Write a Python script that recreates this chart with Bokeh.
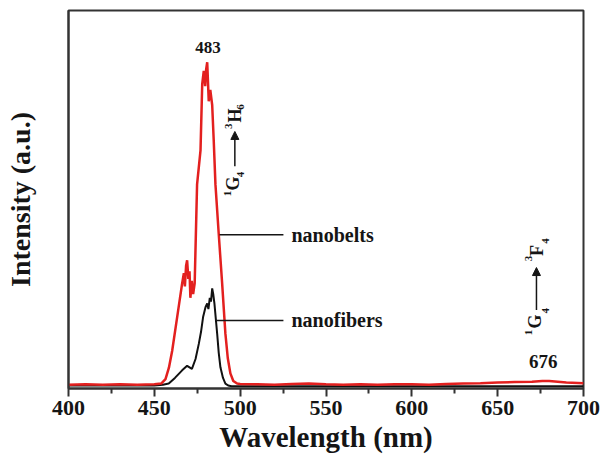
import math
from bokeh.plotting import figure
from bokeh.models import Range1d, Arrow, NormalHead, FixedTicker
from bokeh.core.properties import value
from bokeh.embed import file_html
from bokeh.resources import INLINE

# nanobelts (red)
belt_wl = [400, 410, 420, 430, 440, 450, 454, 456.5, 458.5, 460.4, 463.3, 466.2, 467.2, 467.8, 468.5, 469.1,
           469.8, 470.5, 471.0, 471.8, 472.6, 473.5, 474.9, 476.9, 477.9, 478.8, 479.6, 480.2, 480.8, 481.7,
           482.6, 483.7, 484.6, 485.6, 487.5, 489.5, 491.4, 492.8, 494.3, 496.0, 498.2, 500, 510, 520,
           530, 540, 550, 560, 570, 580, 590, 600, 610, 620, 630, 640, 650, 660, 670, 676, 680, 690, 700]
belt_I = [1.0, 1.1, 1.0, 1.1, 1.0, 1.1, 1.3, 2.5, 5.5, 10.0, 18.9, 27.8, 30.5, 27.0, 32.5, 33.9,
          29.0, 31.0, 24.0, 28.5, 25.0, 27.8, 54.0, 63.0, 80.6, 84.0, 80.0, 84.5, 86.3, 76.0,
          79.0, 75.0, 65.6, 54.0, 41.0, 27.8, 14.5, 8.0, 4.0, 2.0, 1.3, 1.2, 1.1, 1.0,
          1.2, 1.3, 1.1, 1.0, 1.1, 1.0, 1.1, 1.1, 1.0, 1.2, 1.3, 1.4, 1.6, 1.7, 1.8, 2.0, 2.0, 1.6, 1.4]

# nanofibers (black)
fiber_wl = [400, 450, 455, 458.4, 462.0, 466.2, 469.1, 471.9, 474.0, 475.9, 477.2, 478.4, 479.8, 480.8,
            481.5, 482.3, 483.0, 483.7, 484.3, 485.0, 486.6, 487.5, 488.5, 490.0, 491.4, 493, 495,
            500, 550, 600, 650, 700]
fiber_I = [0.8, 0.8, 1.0, 1.3, 2.8, 4.8, 6.0, 5.2, 7.8, 11.8, 15.0, 18.9, 21.5, 22.5,
           21.0, 24.0, 23.0, 26.5, 25.0, 22.5, 14.5, 9.5, 5.6, 2.8, 1.3, 0.8, 0.6,
           0.6, 0.6, 0.6, 0.6, 0.6]

x_ticks = [400, 450, 500, 550, 600, 650, 700]
x_minor = [425, 475, 525, 575, 625, 675]

SERIF = value("Liberation Serif")
RED = "#e3201f"
INK = "#151515"

p = figure(width=601, height=465, output_backend="svg", toolbar_location=None,
           x_range=Range1d(400, 700), y_range=Range1d(0, 100),
           min_border_left=68, min_border_right=18, min_border_top=10, min_border_bottom=77)
p.background_fill_color = "white"
p.border_fill_color = "white"
p.grid.visible = False
p.outline_line_color = "#333333"
p.outline_line_width = 2

p.xaxis.ticker = FixedTicker(ticks=x_ticks, minor_ticks=x_minor)
p.xaxis.axis_line_color = "#333333"
p.xaxis.axis_line_width = 2
p.xaxis.major_tick_line_width = 2
p.xaxis.minor_tick_line_width = 2
p.xaxis.major_tick_line_color = "#333333"
p.xaxis.minor_tick_line_color = "#333333"
p.xaxis.major_tick_in = 0
p.xaxis.major_tick_out = 8
p.xaxis.minor_tick_in = 0
p.xaxis.minor_tick_out = 5
p.xaxis.major_label_standoff = 4
p.xaxis.major_label_text_font = "Liberation Serif"
p.xaxis.major_label_text_font_style = "bold"
p.xaxis.major_label_text_font_size = "22px"
p.xaxis.major_label_text_color = INK
p.xaxis.axis_label = "Wavelength (nm)"
p.xaxis.axis_label_text_font = "Liberation Serif"
p.xaxis.axis_label_text_font_style = "bold"
p.xaxis.axis_label_text_font_size = "29px"
p.xaxis.axis_label_text_color = INK
p.xaxis.axis_label_standoff = 3

p.yaxis.ticker = FixedTicker(ticks=[])
p.yaxis.axis_line_color = "#333333"
p.yaxis.axis_line_width = 2
p.yaxis.major_tick_line_color = None
p.yaxis.minor_tick_line_color = None
p.yaxis.major_label_text_font_size = "0px"
p.yaxis.axis_label = "Intensity (a.u.)"
p.yaxis.axis_label_text_font = "Liberation Serif"
p.yaxis.axis_label_text_font_style = "bold"
p.yaxis.axis_label_text_font_size = "28px"
p.yaxis.axis_label_text_color = INK
p.yaxis.axis_label_standoff = 33

p.line(fiber_wl, fiber_I, line_color="#111111", line_width=2)
p.line(belt_wl, belt_I, line_color=RED, line_width=2.5)

# leader lines and labels
p.segment(x0=[488.0, 486.0], y0=[40.7, 18.0], x1=[525.2, 525.2], y1=[40.7, 18.0],
          line_color=INK, line_width=1.5)
p.text(x=[529.9, 529.9], y=[40.7, 18.0], text=["nanobelts", "nanofibers"],
       text_font=SERIF, text_font_style="bold", text_font_size="20px",
       text_align="left", text_baseline="middle", text_color=INK)
p.text(x=[481.2, 676.6], y=[90.1, 7.1], text=["483", "676"],
       text_font=SERIF, text_font_style="bold", text_font_size=["17px", "19px"],
       text_align="center", text_baseline="middle", text_color=INK)

# transition labels (rotated)
ang = math.pi / 2
big = dict(text_font=SERIF, text_font_style="bold", text_font_size="18px",
           text_align="center", text_baseline="middle", text_color=INK, angle=ang)
small = dict(text_font=SERIF, text_font_style="bold", text_font_size="11px",
             text_align="center", text_baseline="middle", text_color=INK, angle=ang)
p.text(x=[496.1, 496.7, 672.0, 673.2], y=[54.2, 72.2, 17.7, 36.5], text=["G", "H", "G", "F"], **big)
p.text(x=[492.4, 500.4, 493.0, 500.4, 667.7, 677.7, 667.7, 677.7],
       y=[51.6, 56.6, 69.4, 74.5, 14.8, 20.6, 34.4, 39.0],
       text=["1", "4", "3", "6", "1", "4", "3", "4"], **small)

for xa, y0, y1 in [(496.9, 58.8, 68.0), (672.6, 20.8, 32.0)]:
    p.add_layout(Arrow(end=NormalHead(size=8, fill_color=INK, line_color=INK),
                       x_start=xa, y_start=y0, x_end=xa, y_end=y1,
                       line_color=INK, line_width=1.5))

open("out.html", "w").write(file_html(p, INLINE))
